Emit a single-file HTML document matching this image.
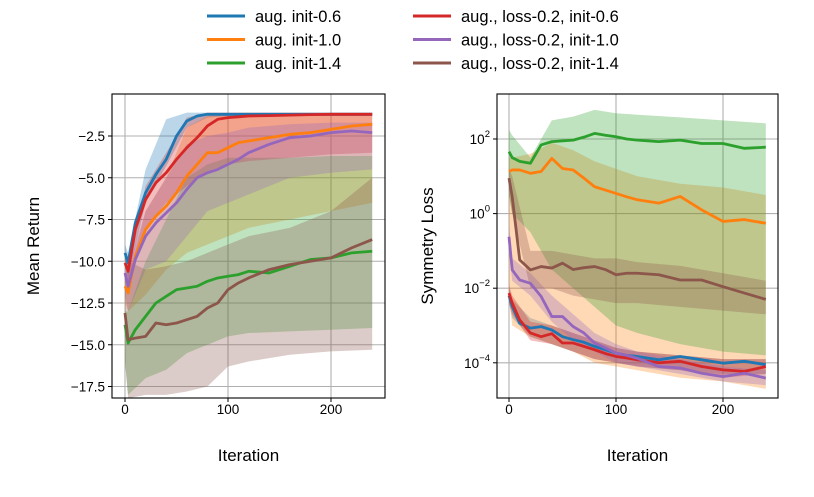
<!DOCTYPE html>
<html><head><meta charset="utf-8"><style>
body{margin:0;background:#fff;}
svg{font-family:"Liberation Sans","DejaVu Sans",sans-serif;}
</style></head><body>
<svg id="c" width="814" height="492" viewBox="0 0 814 492"></svg>
<script>
// ---- data ----
const iters = [0,3,10,20,30,40,50,60,70,80,90,100,110,120,140,160,180,200,220,240];
const bandIters = [0,3,20,40,60,80,100,120,160,200,240];
const seriesNames = ["aug. init-0.6","aug. init-1.0","aug. init-1.4","aug., loss-0.2, init-0.6","aug., loss-0.2, init-1.0","aug., loss-0.2, init-1.4"];
const colors = ["#1f77b4","#ff7f0e","#2ca02c","#d62728","#9467bd","#8c564b"];
// Mean return
const retBlue   = [-9.5,-10.1,-7.7,-5.9,-4.8,-3.9,-2.5,-1.6,-1.3,-1.2,-1.2,-1.2,-1.2,-1.2,-1.2,-1.2,-1.2,-1.2,-1.2,-1.2];
const retOrange = [-11.5,-11.9,-9.7,-8.1,-7.3,-6.7,-5.9,-4.9,-4.2,-3.5,-3.5,-3.2,-2.9,-2.8,-2.6,-2.4,-2.3,-2.1,-1.9,-1.8];
const retGreen  = [-13.8,-14.9,-14.1,-13.3,-12.5,-12.1,-11.7,-11.6,-11.5,-11.2,-11.0,-10.9,-10.8,-10.6,-10.7,-10.3,-9.9,-9.8,-9.5,-9.4];
const retRed    = [-10.1,-10.6,-8.1,-6.3,-5.3,-4.7,-3.9,-3.2,-2.6,-1.9,-1.5,-1.4,-1.35,-1.3,-1.28,-1.25,-1.22,-1.2,-1.2,-1.2];
const retPurple = [-10.7,-11.5,-9.9,-8.5,-7.7,-7.1,-6.5,-5.7,-5.0,-4.7,-4.5,-4.2,-3.9,-3.5,-3.0,-2.6,-2.5,-2.3,-2.2,-2.3];
const retBrown  = [-13.1,-14.7,-14.6,-14.5,-13.7,-13.8,-13.7,-13.5,-13.3,-12.8,-12.5,-11.7,-11.3,-11.0,-10.5,-10.2,-10.0,-9.8,-9.2,-8.7];
const retBlueUp = [-9,-9.5,-4.5,-1.5,-1.1,-1.1,-1.1,-1.1,-1.1,-1.1,-1.1];
const retBlueLo = [-10,-11,-6.5,-4.3,-2,-1.4,-1.3,-1.3,-1.3,-1.3,-1.3];
const retOrangeUp = [-11,-11,-7,-5,-2,-1.3,-1.2,-1.2,-1.2,-1.2,-1.2];
const retOrangeLo = [-12.5,-13,-12,-10.5,-9.5,-9,-8.5,-8,-7.5,-7,-6.5];
const retGreenUp = [-13,-13,-10,-7.5,-5,-4.2,-3.8,-3.8,-3.8,-3.7,-3.7];
const retGreenLo = [-16,-18,-17,-16.5,-15.5,-15,-14.5,-14.3,-14.2,-14.1,-14];
const retRedUp = [-9.8,-10,-5.5,-3.5,-1.4,-1.1,-1.1,-1.1,-1.1,-1.1,-1.1];
const retRedLo = [-10.5,-11.5,-8,-6.5,-5.5,-4.6,-4.2,-4,-3.8,-3.6,-3.5];
const retPurpleUp = [-10,-10.5,-7,-5,-3,-2.5,-2.3,-2,-1.8,-1.7,-1.7];
const retPurpleLo = [-12,-13,-10.5,-10,-8.5,-7,-6.5,-6,-5,-4.7,-4.5];
const retBrownUp = [-11,-10,-10.5,-10.3,-10,-9.5,-9,-8.5,-8,-7,-5];
const retBrownLo = [-16,-18.2,-18,-18,-17.8,-17.5,-16.3,-16,-15.6,-15.4,-15.3];
// Symmetry loss (log10)
const lossBlue   = [-2.2,-2.49,-2.94,-3.07,-3.03,-3.12,-3.3,-3.38,-3.45,-3.56,-3.65,-3.74,-3.8,-3.83,-3.92,-3.83,-3.92,-4.01,-3.96,-4.05];
const lossOrange = [1.13,1.17,1.17,1.08,1.13,1.48,1.21,1.17,0.95,0.72,0.63,0.54,0.45,0.37,0.28,0.46,0.1,-0.21,-0.16,-0.26];
const lossGreen  = [1.66,1.5,1.4,1.35,1.84,1.93,1.95,1.97,2.05,2.15,2.1,2.06,2.0,1.97,1.93,1.97,1.88,1.88,1.75,1.78];
const lossRed    = [-2.13,-2.4,-2.85,-3.2,-3.3,-3.22,-3.47,-3.47,-3.56,-3.65,-3.75,-3.83,-3.87,-3.92,-4.0,-3.96,-4.1,-4.19,-4.23,-4.1];
const lossPurple = [-0.62,-1.51,-1.78,-1.87,-2.22,-2.76,-2.76,-3.03,-3.2,-3.47,-3.6,-3.74,-3.8,-3.88,-4.1,-4.14,-4.28,-4.37,-4.28,-4.41];
const lossBrown  = [0.95,0.45,-1.24,-1.51,-1.42,-1.46,-1.33,-1.5,-1.45,-1.42,-1.5,-1.64,-1.6,-1.6,-1.64,-1.78,-1.78,-1.96,-2.13,-2.3];
const lossBlueUp = [-2,-2.3,-2.8,-3,-3.2,-3.4,-3.6,-3.7,-3.8,-3.9,-3.9];
const lossBlueLo = [-2.4,-2.8,-3.3,-3.5,-3.7,-3.9,-4,-4.1,-4.2,-4.3,-4.3];
const lossOrangeUp = [1.5,1.5,1.6,1.9,1.7,1.4,1.2,1.0,0.8,0.7,0.5];
const lossOrangeLo = [-2.3,-3,-3.3,-3.5,-3.7,-4,-4.1,-4.2,-4.4,-4.5,-4.7];
const lossGreenUp = [2.24,2.1,1.5,2.5,2.6,2.78,2.69,2.65,2.58,2.5,2.42];
const lossGreenLo = [0.5,0,-0.5,-1.5,-2,-2.5,-3,-3.2,-3.5,-3.7,-3.8];
const lossRedUp = [-1.9,-2.2,-2.9,-3,-3.2,-3.4,-3.6,-3.7,-3.8,-3.9,-3.9];
const lossRedLo = [-2.4,-2.7,-3.4,-3.5,-3.7,-3.9,-4.0,-4.1,-4.2,-4.4,-4.3];
const lossPurpleUp = [-0.3,-1.2,-1.6,-2.2,-2.7,-3.2,-3.5,-3.7,-3.9,-4.1,-4.2];
const lossPurpleLo = [-1,-1.8,-2.2,-2.9,-3.4,-3.7,-4,-4.1,-4.3,-4.5,-4.6];
const lossBrownUp = [1.2,1,-1,-1,-1.1,-1.2,-1.2,-1.3,-1.4,-1.6,-1.8];
const lossBrownLo = [0.5,0,-2,-2,-2.2,-2.3,-2.4,-2.4,-2.5,-2.6,-2.7];
const xTicks = [0,100,200];
const retTicks = [-2.5,-5.0,-7.5,-10.0,-12.5,-15.0,-17.5];
const lossTicks = [2,0,-2,-4];

const NS="http://www.w3.org/2000/svg";
const svg=document.getElementById('c');
function mk(tag,attrs,parent){const e=document.createElementNS(NS,tag);for(const k in attrs)e.setAttribute(k,attrs[k]);(parent||svg).appendChild(e);return e;}

function drawPanel(p){
  const g=mk('g',{});
  
  
  const sx=v=>p.x0+(v-p.xv0)*p.xk;
  const sy=v=>p.y0+(v-p.yv0)*p.yk;
  const cp=mk('clipPath',{id:'clip-'+p.name},g);
  mk('rect',{x:p.left,y:p.top,width:p.right-p.left,height:p.bottom-p.top},cp);
  const inner=mk('g',{'clip-path':'url(#clip-'+p.name+')'},g);
  xTicks.forEach(t=>{
    const l=mk('line',{x1:sx(t),x2:sx(t),y1:p.top,y2:p.bottom,stroke:'#b0b0b0','stroke-width':1.1},inner);
    
    
  });
  p.yTicks.forEach(t=>{
    const l=mk('line',{x1:p.left,x2:p.right,y1:sy(t),y2:sy(t),stroke:'#b0b0b0','stroke-width':1.1},inner);
    
    
  });
  p.bands.forEach((b,i)=>{
    let d='';
    bandIters.forEach((it,j)=>{d+=(j?'L':'M')+sx(it)+','+sy(b[0][j]);});
    for(let j=bandIters.length-1;j>=0;j--)d+='L'+sx(bandIters[j])+','+sy(b[1][j]);
    const e=mk('path',{d:d+'Z',fill:colors[i],'fill-opacity':0.3,stroke:'none'},inner);
    
    
  });
  p.lines.forEach((arr,i)=>{
    const pts=iters.map((it,j)=>sx(it)+','+sy(arr[j])).join(' ');
    const e=mk('polyline',{points:pts,fill:'none',stroke:colors[i],'stroke-width':2.8,'stroke-linejoin':'round'},inner);
    
    
  });
  const fr=mk('rect',{x:p.left,y:p.top,width:p.right-p.left,height:p.bottom-p.top,fill:'none',stroke:'#000','stroke-width':1.1},g);
  
  
  xTicks.forEach(t=>{
    mk('line',{x1:sx(t),x2:sx(t),y1:p.bottom,y2:p.bottom+4,stroke:'#000'},g);
    const tx=mk('text',{x:sx(t),y:p.bottom+16,'text-anchor':'middle','font-size':13.5},g);
    tx.textContent=t;
    
    
  });
  p.yTicks.forEach(t=>{
    mk('line',{x1:p.left-4,x2:p.left,y1:sy(t),y2:sy(t),stroke:'#000'},g);
    const tx=mk('text',{x:p.left-7,y:sy(t)+5,'text-anchor':'end','font-size':13.5},g);
    if(p.log){
      const a=mk('tspan',{},tx);a.textContent='10';
      const b=mk('tspan',{dy:-7,'font-size':9.5},tx);b.textContent=(t<0?'\u2212':'')+Math.abs(t);
    } else tx.textContent=t.toFixed(1).replace('-','\u2212');
    
    
  });
  const xl=mk('text',{x:(p.left+p.right)/2,y:461,'text-anchor':'middle','font-size':17},g);
  xl.textContent='Iteration';
  
  
  const yl=mk('text',{x:0,y:0,'text-anchor':'middle','font-size':17,transform:`translate(${p.ylx},${(p.top+p.bottom)/2}) rotate(-90)`},g);
  yl.textContent=p.ylabel;
  
  
}

drawPanel({name:'mean-return-panel',left:112,right:385,top:94,bottom:398,x0:125,xv0:0,xk:1.03,y0:136,yv0:-2.5,yk:-16.7,
  yTicks:retTicks,ylabel:'Mean Return',ylx:39,log:false,
  lines:[retBlue,retOrange,retGreen,retRed,retPurple,retBrown],
  bands:[[retBlueUp,retBlueLo],[retOrangeUp,retOrangeLo],[retGreenUp,retGreenLo],[retRedUp,retRedLo],[retPurpleUp,retPurpleLo],[retBrownUp,retBrownLo]]});
drawPanel({name:'symmetry-loss-panel',left:497,right:778,top:94,bottom:398,x0:509,xv0:0,xk:1.07,y0:139,yv0:2,yk:-37.3,
  yTicks:lossTicks,ylabel:'Symmetry Loss',ylx:433,log:true,
  lines:[lossBlue,lossOrange,lossGreen,lossRed,lossPurple,lossBrown],
  bands:[[lossBlueUp,lossBlueLo],[lossOrangeUp,lossOrangeLo],[lossGreenUp,lossGreenLo],[lossRedUp,lossRedLo],[lossPurpleUp,lossPurpleLo],[lossBrownUp,lossBrownLo]]});

const lg=mk('g',{});


seriesNames.forEach((n,i)=>{
  const col=Math.floor(i/3),row=i%3;
  const x=col?413:207,y=16+row*23.5;
  const e=mk('g',{},lg);
  
  
  mk('line',{x1:x,x2:x+38,y1:y,y2:y,stroke:colors[i],'stroke-width':3},e);
  const t=mk('text',{x:x+48,y:y+6,'font-size':16.5},e);
  t.textContent=n;
});
</script>
</body></html>
